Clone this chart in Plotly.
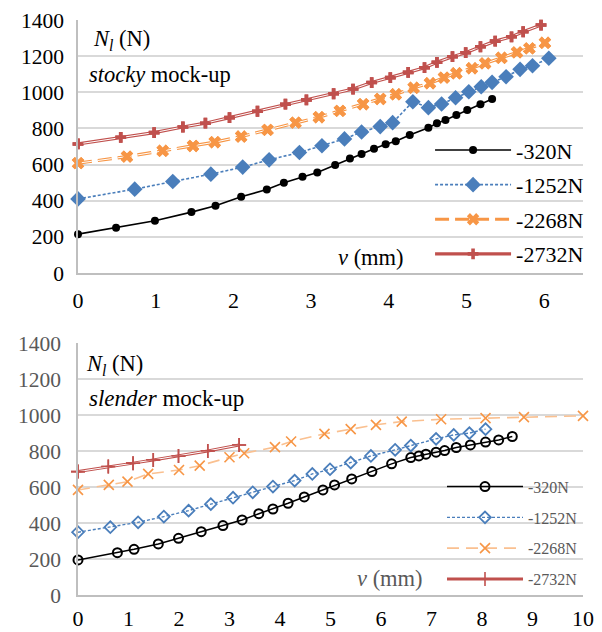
import plotly.graph_objects as go

# ---------------- data: stocky mock-up (top) ----------------
series_names = ["-320N", "-1252N", "-2268N", "-2732N"]

stocky_x_320 = [0, 0.49, 0.99, 1.46, 1.77, 2.10, 2.43, 2.65, 2.89, 3.08, 3.31, 3.50, 3.65, 3.81, 3.96, 4.09,
                4.27, 4.51, 4.62, 4.73, 4.87, 5.01, 5.18, 5.33]
stocky_y_320 = [215, 250, 289, 337, 372, 422, 462, 500, 532, 556, 597, 633, 659, 687, 713, 729,
                764, 804, 829, 847, 875, 902, 934, 963]

stocky_x_1252 = [0, 0.73, 1.22, 1.71, 2.12, 2.46, 2.85, 3.14, 3.43, 3.65, 3.89, 4.05, 4.31, 4.51, 4.68,
                 4.86, 5.03, 5.19, 5.33, 5.51, 5.69, 5.85, 6.06]
stocky_y_1252 = [410, 464, 506, 547, 586, 626, 667, 704, 742, 780, 810, 832, 948, 915, 935,
                 970, 1003, 1031, 1055, 1086, 1127, 1147, 1188]

stocky_x_2268 = [0, 0.63, 1.09, 1.48, 1.76, 2.10, 2.44, 2.80, 3.10, 3.37, 3.67, 3.89, 4.09, 4.32, 4.53,
                 4.71, 4.87, 5.07, 5.24, 5.45, 5.65, 5.81, 6.01]
stocky_y_2268 = [608, 644, 676, 703, 724, 755, 792, 832, 862, 897, 934, 963, 989, 1025, 1050,
                 1081, 1105, 1133, 1160, 1191, 1221, 1243, 1274]

stocky_x_2732 = [0, 0.55, 0.98, 1.35, 1.64, 1.95, 2.31, 2.67, 2.94, 3.29, 3.54, 3.78, 4.02, 4.25, 4.46,
                 4.62, 4.82, 4.99, 5.18, 5.37, 5.58, 5.73, 5.96]
stocky_y_2732 = [714, 751, 777, 808, 829, 860, 895, 934, 958, 992, 1018, 1054, 1081, 1110, 1136,
                 1166, 1197, 1219, 1252, 1283, 1307, 1335, 1372]

# ---------------- data: slender mock-up (bottom) ----------------
slender_x_320 = [0, 0.78, 1.11, 1.59, 1.99, 2.44, 2.87, 3.25, 3.58, 3.86, 4.16, 4.48, 4.85, 5.08, 5.42,
                 5.82, 6.21, 6.59, 6.75, 6.89, 7.09, 7.26, 7.49, 7.77, 8.07, 8.33, 8.60]
slender_y_320 = [195, 235, 254, 284, 315, 352, 386, 417, 452, 478, 510, 545, 584, 612, 645,
                 686, 729, 764, 773, 783, 794, 803, 820, 834, 850, 862, 881]

slender_x_1252 = [0, 0.64, 1.19, 1.70, 2.19, 2.63, 3.07, 3.46, 3.86, 4.29, 4.64, 4.99, 5.40, 5.80, 6.28,
                  6.59, 7.09, 7.44, 7.75, 8.07]
slender_y_1252 = [349, 377, 404, 436, 469, 505, 541, 571, 603, 636, 673, 699, 736, 773, 807,
                  831, 868, 890, 900, 922]

slender_x_2268 = [0, 0.61, 0.98, 1.39, 2.00, 2.41, 3.00, 3.29, 3.90, 4.22, 4.88, 5.40, 5.90, 6.41, 7.19,
                  8.07, 8.83, 10.0]
slender_y_2268 = [584, 612, 630, 673, 695, 719, 766, 788, 822, 853, 896, 922, 946, 964, 977,
                  983, 989, 996]

slender_x_2732 = [0, 0.60, 1.09, 1.49, 1.99, 2.57, 3.19]
slender_y_2732 = [686, 714, 733, 751, 773, 801, 834]

y_ticks = [0, 200, 400, 600, 800, 1000, 1200, 1400]

FONT = "'Liberation Serif', 'Times New Roman', Times, 'DejaVu Serif', serif"
BLACK = "#000000"
BLUE = "#4a7ebb"
ORANGE = "#f79646"
LORANGE = "#fac090"
RED = "#c0504d"
GRID = "#d9d9d9"
GREY_TXT = "#595959"

fig = go.Figure()


def add(x, y, name, xa, ya, legend, color, dash, width, marker, double=False, show=True):
    grp = legend + name
    fig.add_trace(go.Scatter(
        x=x, y=y, name=name, mode="lines+markers", xaxis=xa, yaxis=ya, legend=legend,
        legendgroup=grp,
        line=dict(color=color, width=width, dash=dash), marker=marker,
        cliponaxis=False, showlegend=show))
    if double:
        fig.add_trace(go.Scatter(
            x=x, y=y, mode="lines", xaxis=xa, yaxis=ya, showlegend=False, hoverinfo="skip",
            legendgroup=grp,
            line=dict(color="white", width=1, dash=dash), cliponaxis=False))
        fig.add_trace(go.Scatter(
            x=x, y=y, mode="markers", xaxis=xa, yaxis=ya, showlegend=False, hoverinfo="skip",
            legendgroup=grp,
            marker=marker, cliponaxis=False))


# top chart
add(stocky_x_320, stocky_y_320, series_names[0], "x", "y", "legend", BLACK, "solid", 1.6,
    dict(symbol="circle", size=8, color=BLACK))
add(stocky_x_1252, stocky_y_1252, series_names[1], "x", "y", "legend", BLUE, "3px,2px", 1.6,
    dict(symbol="diamond", size=12, color=BLUE))
add(stocky_x_2268, stocky_y_2268, series_names[2], "x", "y", "legend", ORANGE, "14px,6px", 3.2,
    dict(symbol="x", size=11, color=ORANGE, line=dict(width=0)), double=True)
add(stocky_x_2732, stocky_y_2732, series_names[3], "x", "y", "legend", RED, "solid", 3.2,
    dict(symbol="cross", size=9, color=RED, line=dict(width=0)), double=True)

# bottom chart
add(slender_x_320, slender_y_320, series_names[0], "x2", "y2", "legend2", BLACK, "solid", 1.5,
    dict(symbol="circle-open", size=9, color=BLACK, line=dict(width=2)))
add(slender_x_1252, slender_y_1252, series_names[1], "x2", "y2", "legend2", BLUE, "3px,2px", 1.4,
    dict(symbol="diamond-open", size=9, color=BLUE, line=dict(width=1.8)))
add(slender_x_2268, slender_y_2268, series_names[2], "x2", "y2", "legend2", LORANGE, "12px,7px", 1.6,
    dict(symbol="x-thin-open", size=10, color=ORANGE, line=dict(width=1.6, color=ORANGE)))
add(slender_x_2732, slender_y_2732, series_names[3], "x2", "y2", "legend2", RED, "solid", 3.0,
    dict(symbol="cross-thin-open", size=10, color=RED, line=dict(width=1.6, color=RED)), double=True)

yax = dict(range=[0, 1400], tickvals=y_ticks, showgrid=True, gridcolor=GRID, gridwidth=1.5,
           zeroline=False, showline=True, linecolor="#bfbfbf", linewidth=1.5, ticks="",
           automargin=False)
xax = dict(dtick=1, showgrid=False, zeroline=False, showline=True, linecolor="#bfbfbf",
           linewidth=1.5, ticks="", automargin=False)

# page body has an 8px default margin, so the figure is 8px smaller than the window
fig.update_layout(
    template="none",
    width=594, height=624,
    margin=dict(l=70, r=19, t=12, b=37),
    paper_bgcolor="white", plot_bgcolor="white",
    font=dict(family=FONT, size=21, color=BLACK),
    xaxis=dict(xax, range=[0, 6.5], domain=[0, 1], anchor="y", ticklabelstandoff=7,
               tickfont=dict(color=BLACK, size=22)),
    yaxis=dict(yax, domain=[0.56, 1], anchor="x", ticklabelstandoff=8,
               tickfont=dict(color=BLACK, size=21.5)),
    xaxis2=dict(xax, range=[0, 10], domain=[0, 1], anchor="y2", ticklabelstandoff=3,
                tickfont=dict(color=BLACK, size=22)),
    yaxis2=dict(yax, domain=[0, 0.438], anchor="x2", ticklabelstandoff=11,
                tickfont=dict(color=GREY_TXT, size=21.5)),
    legend=dict(x=1.012, xanchor="right", y=0.81, yanchor="top", bgcolor="rgba(0,0,0,0)",
                font=dict(family=FONT, size=22, color=BLACK), itemwidth=76,
                traceorder="grouped", tracegroupgap=3),
    legend2=dict(x=1.0, xanchor="right", y=0.218, yanchor="top", bgcolor="rgba(0,0,0,0)",
                 font=dict(family=FONT, size=16, color=GREY_TXT), itemwidth=76,
                 traceorder="grouped", tracegroupgap=7),
    showlegend=True,
)

ann = [
    dict(text="<i>N</i><sub><i>l</i></sub> (N)", xref="x domain", yref="y domain", x=0.026, y=0.92,
         xanchor="left", yanchor="middle", font=dict(size=22.5, color=BLACK)),
    dict(text="<i>stocky</i> mock-up", xref="x domain", yref="y domain", x=0.017, y=0.785,
         xanchor="left", yanchor="middle", font=dict(size=22.5, color=BLACK)),
    dict(text="<i>v</i> (mm)", xref="x domain", yref="y domain", x=0.65, y=0.063,
         xanchor="right", yanchor="middle", font=dict(size=22.5, color=BLACK)),
    dict(text="<i>N</i><sub><i>l</i></sub> (N)", xref="x2 domain", yref="y2 domain", x=0.012, y=0.913,
         xanchor="left", yanchor="middle", font=dict(size=22.5, color=BLACK)),
    dict(text="<i>slender</i> mock-up", xref="x2 domain", yref="y2 domain", x=0.018, y=0.78,
         xanchor="left", yanchor="middle", font=dict(size=23, color=BLACK)),
    dict(text="<i>v</i> (mm)", xref="x2 domain", yref="y2 domain", x=0.688, y=0.067,
         xanchor="right", yanchor="middle", font=dict(size=22.5, color=GREY_TXT)),
]
fig.update_layout(annotations=[dict(a, showarrow=False) for a in ann])

fig.write_html("out.html")
